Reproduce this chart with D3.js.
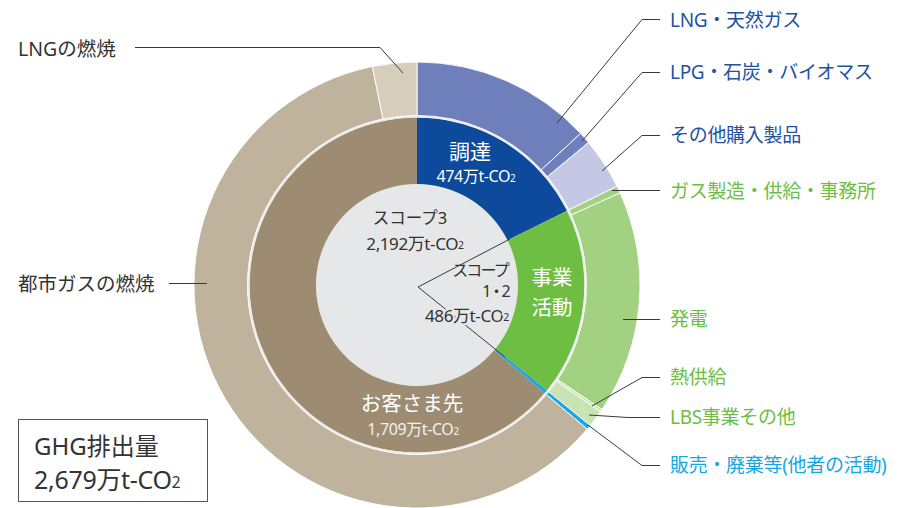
<!DOCTYPE html>
<html><head><meta charset="utf-8">
<script src="https://cdn.jsdelivr.net/npm/d3@7/dist/d3.min.js"></script>
<style>
html,body{margin:0;padding:0;background:#fff;}
svg{display:block;font-family:"Noto Sans","Noto Sans CJK JP",sans-serif;}
</style></head>
<body>
<svg id="chart" width="905" height="508"></svg>
<script>
// ---- data (万t-CO2) ----
const innerCategories = ["調達", "事業活動", "販売・廃棄等", "お客さま先"];
const innerValues = [474, 486, 9, 1709];
const innerColors = ["#0d4a9b", "#6fbe44", "#1aa6e0", "#9d8c72"];

const outerCategories = ["LNG・天然ガス", "LPG・石炭・バイオマス", "その他購入製品",
  "ガス製造・供給・事務所", "発電", "熱供給", "LBS事業その他",
  "販売・廃棄等(他者の活動)", "都市ガスの燃焼", "LNGの燃焼"];
const outerValues = [351, 23, 100, 14, 434, 5, 33, 9, 1623, 86];
const outerColors = ["#6e7fbb", "#6e7fbb", "#c5c8e4", "#a3d182", "#a3d182",
  "#c9e3b3", "#c9e3b3", "#1aa6e0", "#bfb39e", "#d6cdbd"];

const scopeLabels = ["スコープ3", "スコープ", "1・2"];
const scopeValues = ["2,192", "486"];
const totalLabel = "GHG排出量";
const totalValue = "2,679";

// ---- layout ----
const svg = d3.select("#chart");
const cx = 417, cy = 285;
const rCenter = 101, rInner = 167.5, rOuterIn = 169.5, rOuter = 223;
const g = svg.append("g").attr("transform", `translate(${cx},${cy})`);

const pie = d3.pie().sort(null).value(d => d.v).startAngle(0).endAngle(2 * Math.PI);
const innerArcs = pie(innerCategories.map((c, i) => ({c, v: innerValues[i], col: innerColors[i]})));
const outerArcs = pie(outerCategories.map((c, i) => ({c, v: outerValues[i], col: outerColors[i]})));

const arcInner = d3.arc().innerRadius(rCenter).outerRadius(rInner);
const arcOuter = d3.arc().innerRadius(rOuterIn).outerRadius(rOuter);

g.append("circle").attr("r", rCenter).attr("fill", "#e6e7e9");

g.selectAll("path.inner").data(innerArcs).join("path")
  .attr("class", "inner").attr("d", arcInner).attr("fill", d => d.data.col);

g.append("circle").attr("r", (rInner + rOuterIn) / 2).attr("fill", "none")
  .attr("stroke", "#e9eaeb").attr("stroke-width", 2.2);

g.selectAll("path.outer").data(outerArcs).join("path")
  .attr("class", "outer").attr("d", arcOuter).attr("fill", d => d.data.col)
  .attr("stroke", "#fff").attr("stroke-width", 0.9);

// ---- helpers ----
function co2(sel, prefix) {
  sel.append("tspan").text(prefix + "万t-CO");
  sel.append("tspan").text("2").attr("font-size", "62%").attr("dy", "0.18em");
}
function txt(x, y, size, color, anchor) {
  return svg.append("text").attr("x", x).attr("y", y).attr("font-size", size)
    .attr("fill", color).attr("text-anchor", anchor || "middle")
    .attr("dominant-baseline", "central");
}
function leader(points) {
  svg.append("path").attr("d", d3.line()(points)).attr("fill", "none")
    .attr("stroke", "#3a3a3a").attr("stroke-width", 1);
}

// ---- scope leader (V) ----
leader([[510, 239], [418, 287], [505, 357]]);

// ---- inner labels ----
txt(470, 151, 21, "#fff").text(innerCategories[0]);
co2(txt(476, 176, 16, "#fff").attr("letter-spacing", -0.4), innerValues[0]);
txt(552, 277, 20.5, "#fff").text("事業");
txt(552, 307, 20.5, "#fff").text("活動");
txt(412, 403, 20.5, "#fff").text(innerCategories[3]);
co2(txt(413, 429, 16, "#f4f1ec").attr("letter-spacing", -0.4), d3.format(",")(innerValues[3]));

// center scope labels
txt(410, 217, 16.5, "#333").text(scopeLabels[0]);
co2(txt(415, 243, 17, "#333").attr("letter-spacing", -0.4), scopeValues[0]);
txt(508, 270, 16, "#333", "end").attr("letter-spacing", -1.8).text(scopeLabels[1]);
txt(495, 291, 16, "#333").attr("letter-spacing", -3).text(scopeLabels[2]);
co2(txt(467, 315, 17, "#333").attr("letter-spacing", -0.4)
  .attr("stroke", "#e6e7e9").attr("stroke-width", 4).attr("paint-order", "stroke"), scopeValues[1]);

// ---- outer labels (right) ----
const blue = "#2352a2", green = "#6cbd45", cyan = "#17a6e0", dark = "#333";
const fs = 19;
const right = [
  {t: outerCategories[0], y: 20, c: blue, pts: [[660, 19.5], [642, 19.5], [557, 123]]},
  {t: outerCategories[1], y: 72, c: blue, pts: [[660, 72.5], [642, 72.5], [582, 141]]},
  {t: outerCategories[2], y: 135, c: blue, pts: [[660, 135.5], [642, 135.5], [602, 171]]},
  {t: outerCategories[3], y: 191, c: green, pts: [[660, 190.5], [612, 190.5]]},
  {t: outerCategories[4], y: 319, c: green, pts: [[660, 319.5], [623, 319.5]]},
  {t: outerCategories[5], y: 377, c: green, pts: [[660, 377.5], [642, 377.5], [592, 406]]},
  {t: outerCategories[6], y: 417, c: green, pts: [[660, 417.5], [628, 417.5], [589, 415]]},
  {t: outerCategories[7], y: 465, c: cyan, pts: [[660, 465.5], [642, 465.5], [588, 425]]}
];
right.forEach(d => {
  leader(d.pts);
  txt(670, d.y, fs, d.c, "start").attr("letter-spacing", -0.3).text(d.t);
});

// ---- outer labels (left) ----
leader([[135, 47.5], [380, 47.5], [403, 73]]);
txt(18, 48, 19.5, dark, "start").text(outerCategories[9]);
leader([[169, 283.5], [207, 283.5]]);
txt(18, 283, 19.5, dark, "start").text(outerCategories[8]);

// ---- total box ----
svg.append("rect").attr("x", 18.5).attr("y", 419.5).attr("width", 189).attr("height", 82)
  .attr("fill", "#fff").attr("stroke", "#555").attr("stroke-width", 1);
txt(34, 445, 24, dark, "start").text(totalLabel);
co2(txt(34, 479, 25, dark, "start").attr("letter-spacing", -0.3), totalValue);
</script>
</body></html>
